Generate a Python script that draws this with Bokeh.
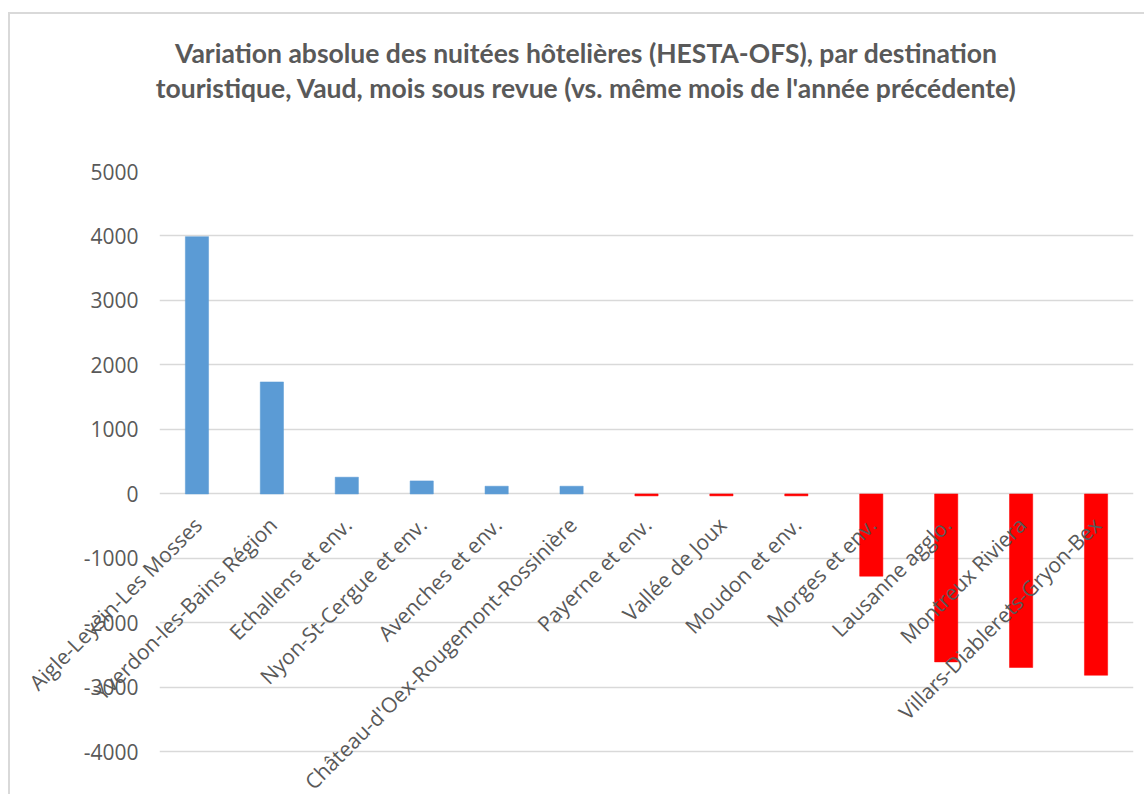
import numpy as np
from bokeh.plotting import figure
from bokeh.models import ColumnDataSource, FactorRange, Range1d, FixedTicker, PrintfTickFormatter
from bokeh.core.properties import value
from bokeh.embed import file_html
from bokeh.resources import INLINE

categories = [
    "Aigle-Leysin-Les Mosses",
    "Yverdon-les-Bains Région",
    "Echallens et env.",
    "Nyon-St-Cergue et env.",
    "Avenches et env.",
    "Château-d'Oex-Rougemont-Rossinière",
    "Payerne et env.",
    "Vallée de Joux",
    "Moudon et env.",
    "Morges et env.",
    "Lausanne agglo.",
    "Montreux Riviera",
    "Villars-Diablerets-Gryon-Bex",
]
values = [3990, 1737, 260, 202, 120, 120, -30, -30, -30, -1275, -2604, -2691, -2811]
y_ticks = [-4000, -3000, -2000, -1000, 0, 1000, 2000, 3000, 4000, 5000]
title_lines = [
    "Variation absolue des nuitées hôtelières (HESTA-OFS), par destination",
    "touristique, Vaud, mois sous revue (vs. même mois de l'année précédente)",
]

POS = "#5B9BD5"
NEG = "#FF0000"
GREY = "#595959"

src = ColumnDataSource(dict(
    cat=categories,
    val=values,
    color=[POS if v >= 0 else NEG for v in values],
    base=[0] * len(categories),
))

p = figure(
    x_range=FactorRange(*categories, range_padding=0),
    y_range=Range1d(-4691, 5000),
    width=1136, height=782,
    output_backend="svg", toolbar_location=None,
    x_axis_location=None,
    min_border_left=149, min_border_right=13,
    min_border_top=157, min_border_bottom=0,
)
p.outline_line_color = None
p.background_fill_color = "white"
p.border_fill_color = "white"

p.vbar(x="cat", top="val", bottom="base", width=0.31, source=src,
       fill_color="color", line_color="color", line_width=0.5)

p.xgrid.grid_line_color = None
p.ygrid.grid_line_color = "#D9D9D9"
p.ygrid.grid_line_width = 1.3

yax = p.yaxis[0]
yax.ticker = FixedTicker(ticks=y_ticks)
yax.formatter = PrintfTickFormatter(format="%d")
yax.axis_line_color = None
yax.major_tick_line_color = None
yax.minor_tick_line_color = None
yax.major_tick_out = 0
yax.major_tick_in = 0
yax.major_label_standoff = 21
yax.major_label_text_font = "Open Sans"
yax.major_label_text_font_size = "21px"
yax.major_label_text_color = GREY

# category labels at the zero line, rotated like the original
p.text(x="cat", y="base", text="cat", source=src, level="overlay",
       angle=np.pi / 4, text_align="right", text_baseline="middle",
       x_offset=1, y_offset=27,
       text_font=value("Open Sans"), text_font_size="21px", text_color=GREY)

# two-line title
tsrc = ColumnDataSource(dict(x=[5.696, 5.696], y=[6845, 6287], t=title_lines))
p.text(x="x", y="y", text="t", source=tsrc, level="overlay",
       text_align="center", text_baseline="middle",
       text_font=value("Lato"), text_font_style="bold",
       text_font_size="26.5px", text_color=GREY)

p.styles = {"margin-left": "8px", "margin-top": "12px",
            "border-left": "2px solid #D9D9D9", "border-top": "2px solid #D9D9D9"}

open("out.html", "w").write(file_html(p, INLINE))
